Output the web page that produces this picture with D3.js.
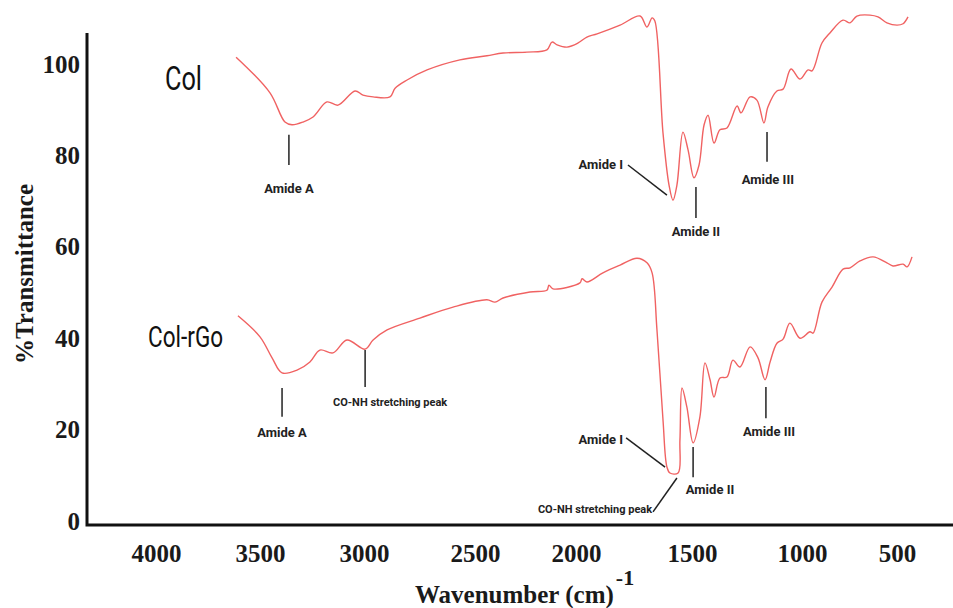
<!DOCTYPE html>
<meta charset="utf-8">
<style>
body { margin: 0; background: #fff; }
.tick text { font-family: "Liberation Serif", "Times New Roman", serif; font-weight: bold; font-size: 25px; fill: #1a1a1a; }
.note { font-family: "Liberation Sans Narrow", "Roboto", sans-serif; font-weight: bold; fill: #222; }
.series { font-family: "Liberation Sans Narrow", "Roboto", sans-serif; fill: #111; }
.title { font-family: "Liberation Serif", "Times New Roman", serif; font-weight: bold; font-size: 25px; fill: #1a1a1a; }
</style>
<body>
<script src="https://d3js.org/d3.v7.min.js"></script>
<script>

// spectra (wavenumber cm-1, % transmittance)
const colWn = [3615, 3452, 3380, 3346, 3293, 3245, 3178, 3125, 3043, 3005, 2959, 2883, 2860, 2806, 2716, 2568, 2441, 2361, 2243, 2144, 2119, 2094, 2045, 1991, 1953, 1909, 1810, 1724, 1694, 1672, 1660, 1625, 1599, 1582, 1565, 1539, 1517, 1491, 1468, 1445, 1427, 1400, 1373, 1341, 1295, 1277, 1236, 1205, 1173, 1155, 1114, 1086, 1050, 1009, 968, 947, 895, 853, 784, 747, 711, 642, 600, 553, 500, 468, 442];
const colT  = [101.5, 93.7, 87.3, 86.7, 87.3, 88.4, 91.7, 91.0, 94.1, 93.2, 92.8, 92.8, 94.7, 96.5, 98.7, 100.9, 101.8, 102.4, 102.6, 103.1, 104.8, 104.2, 103.7, 104.6, 105.9, 106.6, 108.5, 110.5, 108.1, 110.1, 109.4, 84.9, 73.5, 70.2, 73.5, 85.1, 81.2, 75.1, 77.9, 86.7, 88.8, 82.7, 85.6, 86.0, 90.8, 89.3, 92.8, 92.1, 87.1, 90.6, 94.1, 94.5, 98.9, 96.7, 98.7, 98.5, 104.6, 106.8, 109.6, 109.0, 110.5, 110.7, 110.3, 109.0, 108.5, 108.8, 110.3];

const rgoWn = [3606, 3500, 3442, 3394, 3322, 3260, 3212, 3149, 3082, 2995, 2959, 2896, 2748, 2599, 2441, 2401, 2361, 2228, 2144, 2134, 2114, 1983, 1974, 1953, 1884, 1810, 1737, 1694, 1672, 1651, 1625, 1608, 1595, 1560, 1552, 1543, 1522, 1495, 1464, 1441, 1418, 1400, 1373, 1341, 1314, 1282, 1236, 1200, 1168, 1145, 1114, 1086, 1055, 1009, 958, 942, 895, 842, 784, 747, 695, 626, 553, 521, 468, 447, 421];
const rgoT  = [44.9, 40.3, 35.7, 32.4, 33.0, 34.8, 37.4, 36.8, 39.6, 37.6, 39.6, 41.8, 44.4, 46.8, 48.4, 47.9, 48.8, 50.1, 50.5, 51.6, 50.8, 52.1, 53.0, 52.3, 54.3, 56.0, 57.5, 56.5, 54.3, 41.8, 22.1, 11.8, 10.5, 10.5, 17.7, 29.1, 24.9, 17.1, 22.8, 34.6, 30.9, 27.1, 31.3, 31.5, 35.2, 33.7, 38.1, 35.7, 30.9, 34.8, 38.9, 39.8, 43.3, 40.0, 41.4, 41.1, 47.9, 51.2, 55.1, 55.4, 56.9, 57.8, 56.5, 55.8, 56.2, 55.6, 57.8];

const xTicks = [4000, 3500, 3000, 2500, 2000, 1500, 1000, 500];
const yTicks = [0, 20, 40, 60, 80, 100];
const seriesNames = ["Col", "Col-rGo"];
const seriesAt = [[3957, 94.3], [4038, 38.1]];

// peak annotations: [x1, t1, x2, t2]
const noteLines = [
  [3361, 84.5, 3361, 77.9], [1776, 77.9, 1608, 71.3], [1482, 73.1, 1482, 66.3], [1159, 85.1, 1159, 78.6],
  [3394, 29.1, 3394, 22.8], [2995, 37.4, 2995, 29.3], [1784, 18.2, 1616, 11.8], [1668, 2.0, 1565, 9.4],
  [1495, 16.2, 1495, 9.6], [1164, 29.3, 1164, 22.5]
];
const noteText = ["Amide A", "Amide I", "Amide II", "Amide III",
  "Amide A", "CO-NH stretching peak", "Amide I", "CO-NH stretching peak", "Amide II", "Amide III"];
const noteAt = [[3361, 71.8], [1797, 77.0], [1482, 62.4], [1155, 73.7],
  [3394, 18.4], [3149, 25.2], [1797, 16.8], [1672, 1.75], [1418, 5.9], [1150, 18.6]];
const noteAnchor = ["middle", "end", "middle", "middle", "middle", "start", "end", "end", "middle", "middle"];

var width = 953, height = 608;

var x = d3.scaleLinear().domain(xTicks).range([156, 260, 364, 475, 576, 692, 802, 897]);
var y = d3.scaleLinear().domain([0, 100]).range([521, 64]);

var svg = d3.select("body").append("svg")
  .attr("width", width)
  .attr("height", height);

// axis frame
svg.append("path")
  .attr("d", "M87,33V525H" + width)
  .attr("fill", "none")
  .attr("stroke", "#111")
  .attr("stroke-width", 3);

svg.append("g")
  .attr("transform", "translate(87,0)")
  .call(d3.axisLeft(y).tickValues(yTicks).tickSize(0).tickPadding(7))
  .call(g => g.select(".domain").remove());

svg.append("g")
  .attr("transform", "translate(0,525)")
  .call(d3.axisBottom(x).tickValues(xTicks).tickSize(0).tickPadding(19).tickFormat(d3.format("d")))
  .call(g => g.select(".domain").remove());

var xl = svg.append("text")
  .attr("class", "title")
  .attr("x", 415)
  .attr("y", 603);
xl.append("tspan").text("Wavenumber (cm)");
xl.append("tspan").attr("dx", 2).attr("dy", -18).attr("font-size", "22px").text("-1");

svg.append("text")
  .attr("class", "title")
  .attr("transform", "translate(33,274) rotate(-90)")
  .attr("text-anchor", "middle")
  .text("%Transmittance");

var line = d3.line()
  .x(d => x(d[0]))
  .y(d => y(d[1]))
  .curve(d3.curveCatmullRom.alpha(0.5));

[[colWn, colT], [rgoWn, rgoT]].forEach(function(s) {
  svg.append("path")
    .datum(s[0].map((w, i) => [w, s[1][i]]))
    .attr("fill", "none")
    .attr("stroke", "#f06262")
    .attr("stroke-width", 1.4)
    .attr("d", line);
});

// condensed look for the sample names
svg.selectAll(".series")
  .data(seriesNames)
  .enter().append("text")
  .attr("class", "series")
  .attr("x", (d, i) => x(seriesAt[i][0]))
  .attr("y", (d, i) => y(seriesAt[i][1]))
  .attr("font-size", (d, i) => i ? "30px" : "33px")
  .attr("textLength", (d, i) => i ? 75 : 37)
  .attr("lengthAdjust", "spacingAndGlyphs")
  .text(d => d);

svg.selectAll(".nline")
  .data(noteLines)
  .enter().append("line")
  .attr("class", "nline")
  .attr("x1", d => x(d[0])).attr("y1", d => y(d[1]))
  .attr("x2", d => x(d[2])).attr("y2", d => y(d[3]))
  .attr("stroke", "#222")
  .attr("stroke-width", 1.5);

svg.selectAll(".note")
  .data(noteText)
  .enter().append("text")
  .attr("class", "note")
  .attr("x", (d, i) => x(noteAt[i][0]))
  .attr("y", (d, i) => y(noteAt[i][1]))
  .attr("text-anchor", (d, i) => noteAnchor[i])
  .attr("font-size", d => d.length > 10 ? "11px" : "13px")
  .text(d => d);

</script>
</body>
